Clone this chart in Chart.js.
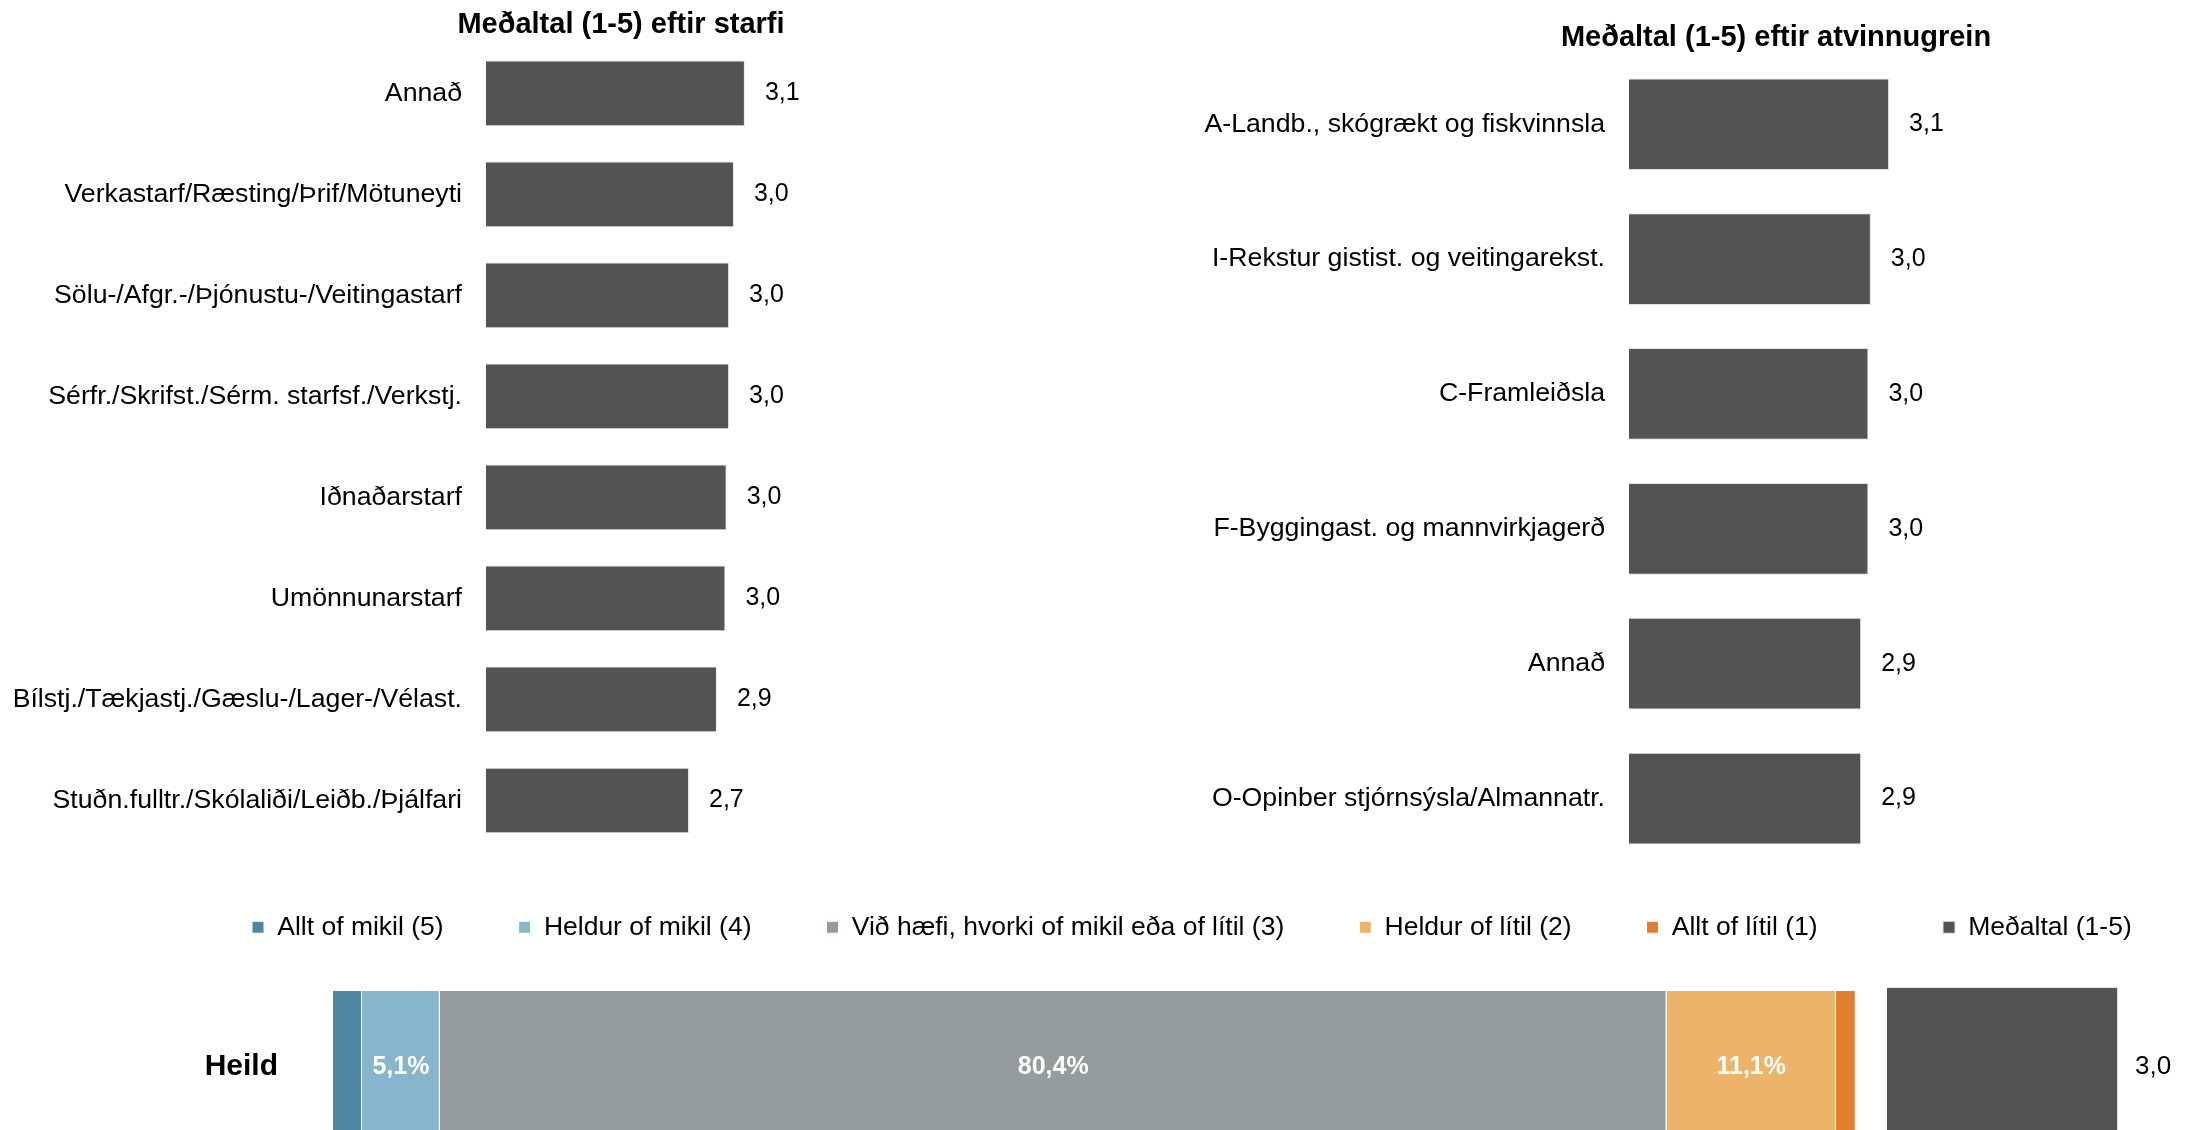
<!DOCTYPE html>
<html>
<head>
<meta charset="utf-8">
<script src="https://cdn.jsdelivr.net/npm/chart.js@4.4.0/dist/chart.umd.min.js"></script>
<style>
    html, body { margin: 0; padding: 0; background: #fff; overflow: hidden; }
    body { width: 2192px; height: 1130px; position: relative; }
    .box { position: absolute; }
</style>
</head>
<body>
<div class="box" style="left:0px; top:0px; width:1242px; height:891px;"><canvas id="job-chart"></canvas></div>
<div class="box" style="left:1150px; top:0px; width:1252px; height:906px;"><canvas id="industry-chart"></canvas></div>
<div class="box" style="left:0px; top:839px; width:1900px; height:417px;"><canvas id="share-chart"></canvas></div>
<div class="box" style="left:1868px; top:839px; width:324px; height:344px;"><canvas id="mean-chart"></canvas></div>

<script>
// DATA
var jobLabels = ['Annað', 'Verkastarf/Ræsting/Þrif/Mötuneyti', 'Sölu-/Afgr.-/Þjónustu-/Veitingastarf',
    'Sérfr./Skrifst./Sérm. starfsf./Verkstj.', 'Iðnaðarstarf', 'Umönnunarstarf',
    'Bílstj./Tækjastj./Gæslu-/Lager-/Vélast.', 'Stuðn.fulltr./Skólaliði/Leiðb./Þjálfari'];
var jobValues = [3.13, 3.04, 3.00, 3.00, 2.98, 2.97, 2.90, 2.67];

var industryLabels = ['A-Landb., skógrækt og fiskvinnsla', 'I-Rekstur gistist. og veitingarekst.',
    'C-Framleiðsla', 'F-Byggingast. og mannvirkjagerð', 'Annað', 'O-Opinber stjórnsýsla/Almannatr.'];
var industryValues = [3.14, 2.99, 2.97, 2.97, 2.91, 2.91];

var totalLabels = ['Heild'];
var answerLabels = ['Allt of mikil (5)', 'Heldur of mikil (4)', 'Við hæfi, hvorki of mikil eða of lítil (3)',
    'Heldur of lítil (2)', 'Allt of lítil (1)'];
var answerShares = [1.9, 5.1, 80.4, 11.1, 1.3];
var meanLabel = 'Meðaltal (1-5)';
var meanValues = [3.0];

var answerColors = ['#4f87a1', '#86b5cc', '#959c9e', '#ecb369', '#e07f2c'];
var barGray = '#535353';

Chart.defaults.font.family = '"Liberation Sans", Arial, sans-serif';
Chart.defaults.color = '#000';
Chart.defaults.animation = false;

function comma(v, digits) {
    return v.toFixed(digits).replace('.', ',');
}

// value labels next to / inside bars
var valueLabels = {
    id: 'valueLabels',
    afterDatasetsDraw: function(chart, args, opts) {
        var ctx = chart.ctx;
        ctx.save();
        chart.data.datasets.forEach(function(ds, i) {
            var meta = chart.getDatasetMeta(i);
            meta.data.forEach(function(bar, j) {
                var v = ds.data[j];
                ctx.font = opts.font;
                ctx.fillStyle = opts.color;
                ctx.textBaseline = 'middle';
                if (opts.inside) {
                    if (v < opts.minValue) return;
                    ctx.textAlign = 'center';
                    ctx.fillText(comma(v, 1) + '%', (bar.x + bar.base) / 2, bar.y);
                } else {
                    ctx.textAlign = 'left';
                    ctx.fillText(comma(v, 1), bar.x + opts.offset, bar.y);
                }
            });
        });
        ctx.restore();
    }
};

// MEAN BAR CHARTS (top)
function loadMeanChart(id, labels, values, title, axisWidth, axisMax, barPct, titlePad) {
    var context = document.getElementById(id).getContext('2d');
    return new Chart(context, {
        type: 'bar',
        data: {
            labels: labels,
            datasets: [{
                data: values,
                backgroundColor: barGray,
                borderColor: '#e4e4e4',
                borderWidth: 1,
                barPercentage: barPct,
                categoryPercentage: 1
            }]
        },
        plugins: [valueLabels],
        options: {
            indexAxis: 'y',
            responsive: true,
            maintainAspectRatio: false,
            layout: { padding: 0 },
            plugins: {
                legend: { display: false },
                tooltip: { enabled: false },
                title: {
                    display: true,
                    text: title,
                    color: '#000',
                    font: { size: 29, weight: 'bold' },
                    padding: titlePad
                },
                valueLabels: { font: '25px "Liberation Sans", Arial, sans-serif', color: '#000', offset: 20 }
            },
            scales: {
                // axis is hidden; 1 is the bottom of the 1-5 scale
                x: { display: false, min: 1, max: axisMax },
                y: {
                    afterFit: function(scale) { scale.width = axisWidth; },
                    grid: { display: false, drawTicks: false },
                    border: { display: false },
                    ticks: {
                        color: '#000',
                        padding: 24,
                        autoSkip: false,
                        font: { size: 26.7 }
                    }
                }
            }
        }
    });
}

// STACKED SHARE CHART (bottom)
function loadShareChart() {
    var context = document.getElementById('share-chart').getContext('2d');
    var datasets = answerLabels.map(function(name, i) {
        return {
            label: name,
            data: [answerShares[i]],
            backgroundColor: answerColors[i],
            borderColor: '#ffffff',
            borderWidth: 1,
            barPercentage: 0.66,
            categoryPercentage: 1
        };
    });
    return new Chart(context, {
        type: 'bar',
        data: { labels: totalLabels, datasets: datasets },
        plugins: [valueLabels],
        options: {
            indexAxis: 'y',
            responsive: true,
            maintainAspectRatio: false,
            layout: { padding: { left: 177, right: 0, top: 0, bottom: 0 } },
            plugins: {
                tooltip: { enabled: false },
                legend: {
                    position: 'top',
                    align: 'start',
                    labels: {
                        boxWidth: 12,
                        boxHeight: 12,
                        padding: 75,
                        color: '#000',
                        font: { size: 26.5 }
                    }
                },
                valueLabels: { inside: true, minValue: 3, font: 'bold 25px "Liberation Sans", Arial, sans-serif', color: '#fff' }
            },
            scales: {
                x: { display: false, stacked: true, min: 0, max: 102.7 },
                y: {
                    stacked: true,
                    afterFit: function(scale) { scale.width = 156; },
                    grid: { display: false, drawTicks: false },
                    border: { display: false },
                    ticks: { color: '#000', padding: 55, font: { size: 30, weight: 'bold' } }
                }
            }
        }
    });
}

// MEAN OF TOTAL (bottom right)
function loadTotalMeanChart() {
    var context = document.getElementById('mean-chart').getContext('2d');
    return new Chart(context, {
        type: 'bar',
        data: {
            labels: totalLabels,
            datasets: [{
                label: meanLabel,
                data: meanValues,
                backgroundColor: barGray,
                borderColor: '#e4e4e4',
                borderWidth: 1,
                barPercentage: 0.685,
                categoryPercentage: 1
            }]
        },
        plugins: [valueLabels],
        options: {
            indexAxis: 'y',
            responsive: true,
            maintainAspectRatio: false,
            layout: { padding: 0 },
            plugins: {
                tooltip: { enabled: false },
                legend: {
                    position: 'top',
                    align: 'start',
                    labels: {
                        boxWidth: 12,
                        boxHeight: 12,
                        padding: 75,
                        color: '#000',
                        font: { size: 26.5 }
                    }
                },
                valueLabels: { font: '26px "Liberation Sans", Arial, sans-serif', color: '#000', offset: 17 }
            },
            scales: {
                x: { display: false, min: 1, max: 3.64 },
                y: {
                    afterFit: function(scale) { scale.width = 19; },
                    grid: { display: false, drawTicks: false },
                    border: { display: false },
                    ticks: { display: false }
                }
            }
        }
    });
}

// INIT
loadMeanChart('job-chart', jobLabels, jobValues, 'Meðaltal (1-5) eftir starfi', 486, 7.22, 0.65, { top: 8, bottom: 0 });
loadMeanChart('industry-chart', industryLabels, industryValues, 'Meðaltal (1-5) eftir atvinnugrein', 479, 7.36, 0.68, { top: 21, bottom: 1 });
loadShareChart();
loadTotalMeanChart();
</script>
</body>
</html>
